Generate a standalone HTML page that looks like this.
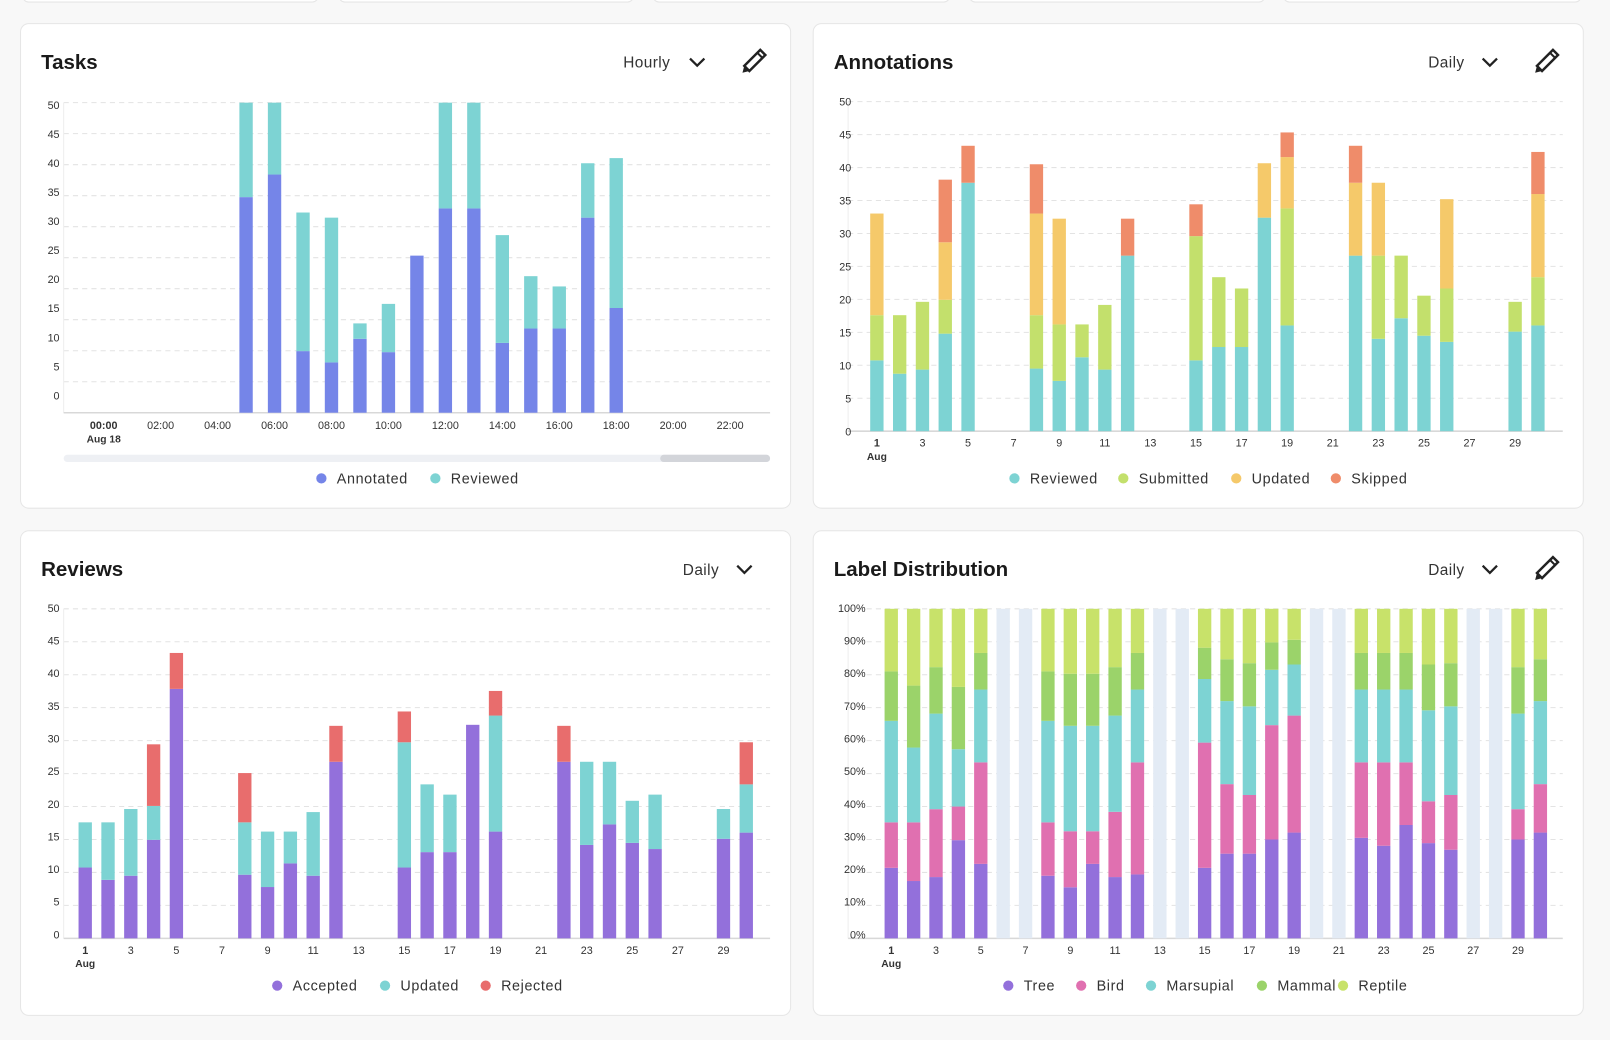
<!DOCTYPE html>
<html><head><meta charset="utf-8"><style>
html,body{margin:0;padding:0;background:#f8f8f8;overflow:hidden}
svg{display:block}
text{font-family:"Liberation Sans",sans-serif}
</style></head><body>
<svg id="s" width="1610" height="1040" viewBox="0 0 1568 1013" preserveAspectRatio="none" xmlns="http://www.w3.org/2000/svg"></svg>
<script>
const C={ann:'#7585e8',rev:'#7dd3d3',sub:'#c3e06c',upd:'#f5c96a',skip:'#ef8c6a',acc:'#9370db',rej:'#e86d6d',bird:'#e070b0',mam:'#9bd36a',rep:'#c8e26a',empty:'#e3ebf5'};
let h='';
h+='<rect width="1568" height="1013" fill="#f8f8f8"/>';
[[22,310],[330,617],[636,925],[944,1232],[1250,1540]].forEach(a=>h+=`<rect x="${a[0]}" y="-10" width="${a[1]-a[0]}" height="12" rx="6" fill="#fff" stroke="#e6e6e6"/>`);
function card(x,y,title,per,px,pencil){
 h+=`<rect x="${x}" y="${y}" width="750" height="472" rx="8" fill="#fff" stroke="#e6e6e6"/>`;
 h+=`<text x="${x+20}" y="${y+44}" font-size="20" font-weight="bold" fill="#1a1a1a">${title}</text>`;
 h+=`<text x="${px}" y="${y+43}" font-size="15" fill="#333" letter-spacing="0.4">${per}</text>`;
 const cx=px+(per=='Hourly'?72:60);
 h+=`<polyline points="${cx-7},${y+34} ${cx},${y+41} ${cx+7},${y+34}" fill="none" stroke="#222" stroke-width="2.2"/>`;
 if(pencil){const p=x+713,q=y+38;
  h+=`<g transform="translate(${p},${q}) rotate(45)"><rect x="-3.5" y="-14" width="7" height="22" fill="none" stroke="#222" stroke-width="2.4"/><polygon points="-3.5,8 3.5,8 0,14" fill="#222"/><line x1="-3.5" y1="-10" x2="3.5" y2="-10" stroke="#222" stroke-width="2"/></g>`;}
}
card(20,23,'Tasks','Hourly',607,true);
card(792,23,'Annotations','Daily',1391,true);
card(20,517,'Reviews','Daily',665,false);
card(792,517,'Label Distribution','Daily',1391,true);
function grid(x0,x1,top,base,n){
 for(let i=0;i<n;i++){const y=top+(base-top)*i/n;h+=`<line x1="${x0}" x2="${x1}" y1="${y}" y2="${y}" stroke="#e3e3e3" stroke-dasharray="5,4"/>`;}
 h+=`<line x1="${x0}" x2="${x0}" y1="${top}" y2="${base}" stroke="#eee"/>`;
 h+=`<line x1="${x0}" x2="${x1}" y1="${base}" y2="${base}" stroke="#d8d8d8" stroke-width="1.5"/>`;
}
function ylab(x,ys,labels){labels.forEach((l,i)=>h+=`<text x="${x}" y="${ys[i]+4}" font-size="10.5" fill="#333" text-anchor="end">${l}</text>`);}
function stack(cx,base,tops,cols,w){let prev=base;tops.forEach((t,i)=>{if(t==null)return;h+=`<rect x="${cx-w/2}" y="${t}" width="${w}" height="${prev-t}" fill="${cols[i]}"/>`;prev=t;});}
function legend(y,items){items.forEach(it=>{h+=`<circle cx="${it[0]}" cy="${y}" r="5" fill="${it[2]}"/><text x="${it[0]+15}" y="${y+5}" font-size="14" fill="#333" letter-spacing="0.6">${it[1]}</text>`;});}
function dayLabels(x1,step,y){for(let d=1;d<=29;d+=2){const x=x1+(d-1)*step;h+=`<text x="${x}" y="${y}" font-size="10.5" fill="#333" text-anchor="middle" ${d==1?'font-weight="bold"':''}>${d}</text>`;}
 h+=`<text x="${x1}" y="${y+13}" font-size="10" font-weight="bold" fill="#333" text-anchor="middle">Aug</text>`;}
const v50=['50','45','40','35','30','25','20','15','10','5','0'];
// Tasks
grid(62,750,100,402,10);
ylab(58,v50.map((_,i)=>102+i*28.3),v50);
const T={5:[192,100],6:[170,100],7:[342,207],8:[353,212],9:[330,315],10:[343,296],11:[249,249],12:[203,100],13:[203,100],14:[334,229],15:[320,269],16:[320,279],17:[212,159],18:[300,154]};
for(const k in T){stack(101+27.73*k,402,T[k],[C.ann,C.rev],13);}
for(let i=0;i<12;i++){const x=101+27.73*2*i;const t=String(2*i).padStart(2,'0')+':00';h+=`<text x="${x}" y="418" font-size="10.5" fill="#333" text-anchor="middle" ${i==0?'font-weight="bold"':''}>${t}</text>`;}
h+=`<text x="101" y="431" font-size="10" font-weight="bold" fill="#333" text-anchor="middle">Aug 18</text>`;
h+=`<rect x="62" y="443" width="688" height="7" rx="3.5" fill="#eef0f4"/><rect x="643" y="443" width="107" height="7" rx="3.5" fill="#d3d5da"/>`;
legend(466,[[313,'Annotated',C.ann],[424,'Reviewed',C.rev]]);
// Annotations
grid(826,1522,99,420,10);
ylab(829,v50.map((_,i)=>99+i*32.1),v50);
const A={1:[351,307,208],2:[364,307],3:[360,294],4:[325,292,236,175],5:[178,null,null,142],8:[359,307,208,160],9:[371,316,213],10:[348,316],11:[360,297],12:[249,null,null,213],15:[351,230,null,199],16:[338,270],17:[338,281],18:[212,null,159],19:[317,203,153,129],22:[249,null,178,142],23:[330,249,178],24:[310,249],25:[327,288],26:[333,281,194],29:[323,294],30:[317,270,189,148]};
for(const d in A)stack(854+(d-1)*22.2,420,A[d],[C.rev,C.sub,C.upd,C.skip],13);
dayLabels(854,22.2,435);
legend(466,[[988,'Reviewed',C.rev],[1094,'Submitted',C.sub],[1204,'Updated',C.upd],[1301,'Skipped',C.skip]]);
// Reviews
grid(62,750,593,914,10);
ylab(58,v50.map((_,i)=>592+i*31.8),v50);
const R={1:[845,801],2:[857,801],3:[853,788],4:[818,785,725],5:[671,null,636],8:[852,801,753],9:[864,810],10:[841,810],11:[853,791],12:[742,null,707],15:[845,723,693],16:[830,764],17:[830,774],18:[706],19:[810,697,673],22:[742,null,707],23:[823,742],24:[803,742],25:[821,780],26:[827,774],29:[817,788],30:[811,764,723]};
for(const d in R)stack(83+(d-1)*22.2,914,R[d],[C.acc,C.rev,C.rej],13);
dayLabels(83,22.2,929);
legend(960,[[270,'Accepted',C.acc],[375,'Updated',C.rev],[473,'Rejected',C.rej]]);
// Label distribution
grid(826,1522,593,914,10);
const pl=[];for(let i=10;i>=0;i--)pl.push(i*10+'%');
ylab(843,pl.map((_,i)=>592+i*31.8),pl);
const L={1:[21.4,35.2,66,81],2:[17.4,35.2,57.9,76.7],3:[18.6,39.2,68.2,82.3],4:[29.8,40,57.4,76.3],5:[22.6,53.4,75.5,86.6],8:[19,35.2,66,81],9:[15.5,32.5,64.5,80.3],10:[22.6,32.5,64.5,80.3],11:[18.6,38.4,67.6,82.3],12:[19.4,53.4,75.5,86.6],15:[21.4,59.4,78.7,88.2],16:[25.7,46.8,72,84.7],17:[25.7,43.5,70.4,83.5],18:[30,64.7,81.5,89.8],19:[32.1,67.6,83.1,90.6],22:[30.5,53.4,75.5,86.6],23:[28.1,53.4,75.5,86.6],24:[34.4,53.4,75.5,86.6],25:[28.9,41.6,69.2,83.1],26:[26.9,43.5,70.4,83.5],29:[30,39.2,68.2,82.3],30:[32.1,46.8,72,84.7]};
for(let d=1;d<=30;d++){const cx=868+(d-1)*21.8;
 if(L[d]){const t=L[d].map(p=>914-p*3.21);t.push(593);stack(cx,914,t,[C.acc,C.bird,C.rev,C.mam,C.rep],13);}
 else h+=`<rect x="${cx-6.5}" y="593" width="13" height="321" fill="${C.empty}"/>`;}
dayLabels(868,21.8,929);
legend(960,[[982,'Tree',C.acc],[1053,'Bird',C.bird],[1121,'Marsupial',C.rev],[1229,'Mammal',C.mam],[1308,'Reptile',C.rep]]);
document.getElementById('s').innerHTML=h;
</script>
</body></html>
